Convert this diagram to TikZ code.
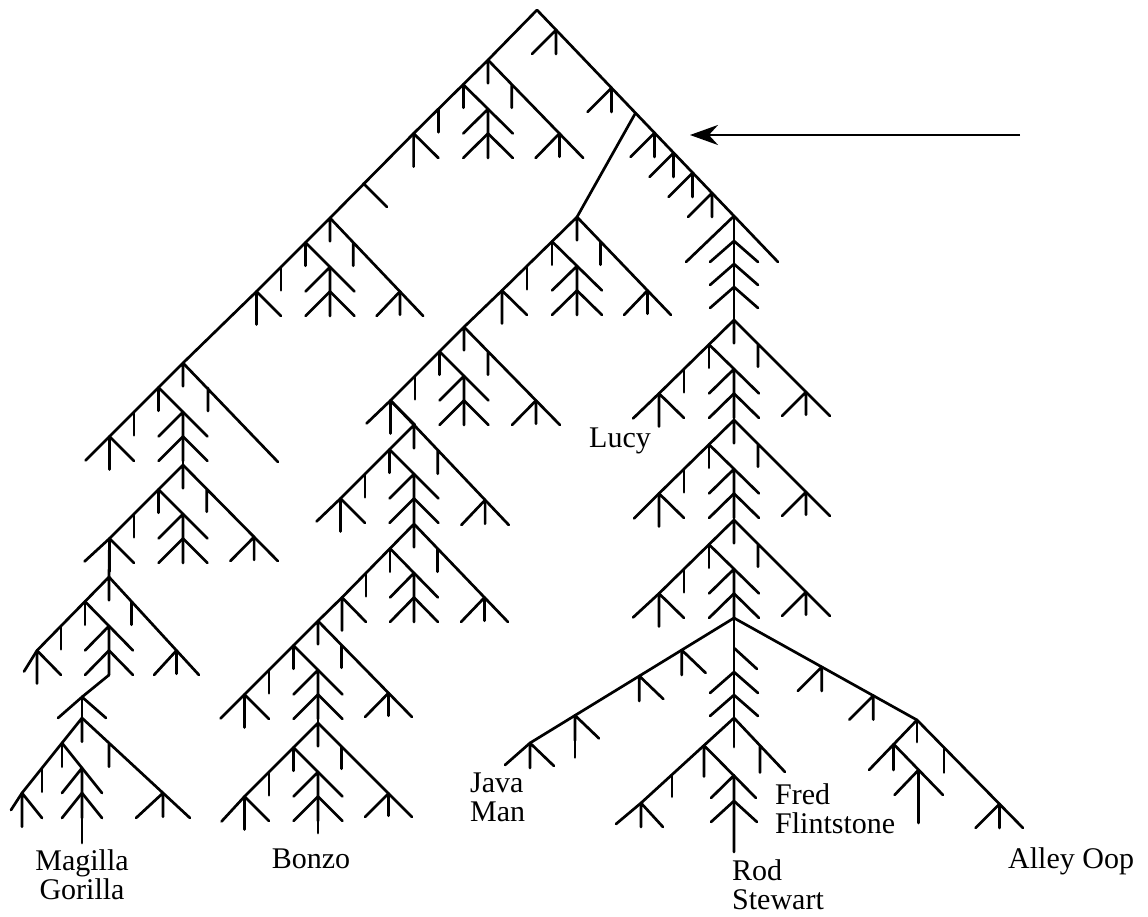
\documentclass[tikz,border=0pt]{standalone}
\usepackage{fontspec}
\setmainfont{Liberation Serif}
\usetikzlibrary{arrows.meta}

\newcommand{\namefont}{\fontsize{30}{29}\selectfont}

\tikzset{
  limb/.style={line width=2.7pt, line cap=round, line join=round},
  species/.style={font=\namefont, inner sep=0pt, align=left},
  % left half of a fir: apex stem, side twigs, double chevron, end twig
  pics/firl/.style 2 args={code={
    \begin{scope}[x=#1pt, y=-#2pt]
      \coordinate (-top) at (0,0);
      \coordinate (-c) at (0,2);
      \coordinate (-bot) at (0,4);
      \coordinate (-e) at (-3,3);
      \draw[limb] (0,0.95) -- (0,0) -- (-3,3);
      \draw[limb] (-1,1) -- (-1,1.95) (-2,2) -- (-2,2.95);
      \draw[limb] (-1,1) -- (1,3);
      \draw[limb] (-1,3) -- (0,2) -- (0,4);
      \draw[limb] (-1,4) -- (0,3) -- (1,4);
      \draw[limb] (-3,4.35) -- (-3,3) -- (-2,4);
    \end{scope}}},
  % right arm of a fir
  pics/firr/.style 2 args={code={
    \begin{scope}[x=#1pt, y=-#2pt]
      \draw[limb] (0,0) -- (4,4) (1,1) -- (1,1.95);
      \draw[limb] (2,4) -- (3,3) -- (3,3.95);
    \end{scope}}},
  pics/hook/.style={code={\draw[limb] (-24,24) -- (0,0) -- (0,24);}},
  pics/chev/.style={code={\draw[limb] (-24,21) -- (0,0) -- (24,21);}},
  pics/barb/.style={code={\draw[limb] (0,25) -- (0,0) -- (24,23);}},
}

\begin{document}
\begin{tikzpicture}[x=1pt, y=-1pt]
\useasboundingbox (0,0) rectangle (1148,916);

% crown and the right-hand line
\coordinate (apex) at (537,10);
\coordinate (spinetop) at (734,216);
\coordinate (lucyfork) at (635.5,113);
\draw[limb] (apex) -- (spinetop) -- (778,262);
\draw[limb] (spinetop) -- (686,262);
\foreach \x/\y in {556/30, 611.5/88, 654.5/133, 673.5/153, 692.5/173, 712/193}
  \pic at (\x,\y) {hook};
\foreach \y in {241, 264, 287}
  \pic at (734,\y) {chev};

% Magilla Gorilla line
\pic (u1) at (488,60) {firl={24.8}{24.5}};
\pic at (488,60) {firr={23.8}{24.5}};
\draw[limb] (apex) -- (u1-top);
\pic (u2) at (330,218) {firl={24.5}{24.5}};
\pic at (330,218) {firr={23.3}{24.5}};
\draw[limb] (u1-e) -- (u2-top);
\draw[limb] (363.5,183.5) -- ++(23.5,23.5);
\pic (u3) at (183,363) {firl={24.5}{24.5}};
\draw[limb] (u3-top) -- ++(95,99) (u3-top) ++(25,25) -- ++(0,23);
\draw[limb] (u2-e) -- (u3-top);
\draw[limb] (u3-e) -- ++(-24,24);
\pic (u4) at (183,465) {firl={24.5}{24.5}};
\pic at (183,465) {firr={23.7}{24}};
\draw[limb] (u3-bot) -- (u4-top);
\draw[limb] (u4-e) -- ++(-25,23);
\pic (u5) at (109,577) {firl={24}{24.5}};
\pic at (109,577) {firr={22.5}{24.5}};
\draw[limb] (u4-e) -- (u5-top);
\draw[limb] (u5-e) -- ++(-13,21);
\coordinate (kink) at (82,697);
\pic at (kink) {chev};
\draw[limb] (u5-bot) -- (kink);
\pic (u6) at (82,718) {firl={20}{25}};
\pic at (82,718) {firr={27}{25}};
\draw[limb] (kink) -- (u6-top);
\draw[limb] (u6-e) -- ++(-11,17);
\coordinate (magstem) at (82,843);
\draw[limb] (u6-c) -- (magstem);
\node[species, anchor=north, align=center] (magilla) at (82,849) {Magilla\\Gorilla};

% Bonzo line
\pic (ul1) at (577,217) {firl={25}{24.5}};
\pic at (577,217) {firr={23.5}{24.5}};
\draw[limb] (lucyfork) -- (ul1-top);
\pic (ul2) at (464,327) {firl={24.5}{24.5}};
\pic at (464,327) {firr={24}{24.5}};
\draw[limb] (ul1-e) -- (ul2-top);
\draw[limb] (ul2-e) -- ++(-24,23);
\pic (ul3) at (414,425) {firl={24.5}{24.5}};
\pic at (414,425) {firr={23.7}{25}};
\draw[limb] (ul2-e) -- (ul3-top);
\draw[limb] (ul3-e) -- ++(-24,23);
\pic (ul4) at (414,524) {firl={24}{24.5}};
\pic at (414,524) {firr={23.5}{24.5}};
\draw[limb] (ul3-bot) -- (ul4-top);
\pic (ul5) at (318,621) {firl={24.5}{24.5}};
\pic at (318,621) {firr={23.5}{24}};
\draw[limb] (ul4-e) -- (ul5-top);
\draw[limb] (ul5-e) -- ++(-24,24);
\pic (ul6) at (318,723) {firl={24.5}{24.5}};
\pic at (318,723) {firr={23.5}{23.5}};
\draw[limb] (ul5-bot) -- (ul6-top);
\draw[limb] (ul6-e) -- ++(-23,25);
\coordinate (bonzostem) at (318,833);
\draw[limb] (ul6-c) -- (bonzostem);
\node[species, anchor=north] (bonzo) at (311,849) {Bonzo};
\node[species, anchor=north west] (lucy) at (589,428) {Lucy};

% right spine
\pic (us1) at (734,320) {firl={25}{24.5}};
\pic at (734,320) {firr={24}{24}};
\draw[limb] (spinetop) -- (us1-top);
\draw[limb] (us1-e) -- ++(-26,25);
\pic (us2) at (734,420) {firl={25}{24.5}};
\pic at (734,420) {firr={24}{24}};
\draw[limb] (us1-bot) -- (us2-top);
\draw[limb] (us2-e) -- ++(-25,25);
\pic (us3) at (734,520) {firl={25}{24.5}};
\pic at (734,520) {firr={24}{24}};
\draw[limb] (us2-bot) -- (us3-top);
\draw[limb] (us3-e) -- ++(-26,24);
\coordinate (hub) at (us3-bot);

% fan towards Java Man
\coordinate (javatip) at (530,743);
\draw[limb] (hub) -- (javatip) -- ++(-25,22);
\foreach \x/\y in {681.7/650, 639.3/676, 575/715.4, 530/743}
  \pic at (\x,\y) {barb};
\draw[limb] (575,715.4) -- ++(0,42);
\node[species, anchor=north west] (java) at (470,773) {Java\\Man};

% fan towards Alley Oop
\coordinate (oop) at (917,720);
\draw[limb] (hub) -- (oop) -- (1023,828);
\foreach \x/\y in {821.7/667, 873.3/695.6, 999.5/804}
  \pic at (\x,\y) {hook};
\draw[limb] (oop) -- ++(0,22) (944,747.5) -- ++(0,25);
\draw[limb] (oop) -- (869,770) (893.5,744) -- ++(0,26);
\draw[limb] (893.5,744) -- (943,795);
\draw[limb] (894.5,795) -- (918.5,770) -- (918.5,823);
\node[species, anchor=north west] (alley) at (1008,847) {Alley Oop};

% stem to Rod Stewart
\coordinate (us4) at (734,718);
\draw[limb] (hub) -- (us4) -- ++(0,29);
\draw[limb] (734,648) -- ++(23,21);
\foreach \y in {672, 695}
  \pic at (734,\y) {chev};
\draw[limb] (us4) -- (641,803) -- ++(-25,21);
\draw[limb] (us4) -- (785,772) (760,745.5) -- ++(0,27);
\draw[limb] (704,745.4) -- ++(0,31) (704,745.4) -- (756,798);
\draw[limb] (711,798) -- (734,775.4) -- (734,852);
\draw[limb] (711,822) -- (734,801) -- (757,822);
\draw[limb] (672,774.7) -- ++(0,22);
\draw[limb] (641,803) -- ++(0,24) (641,803) -- ++(22,24);
\node[species, anchor=north west] (rod) at (732,859) {Rod\\Stewart};
\node[species, anchor=north west] (fred) at (775,783) {Fred\\Flintstone};

% pointer
\coordinate (pointer) at (1020,135);
\coordinate (target) at (690,135);
\draw[line width=2.8pt, -{Stealth[length=28pt, width=20pt]}] (pointer) -- (target);
\end{tikzpicture}
\end{document}
